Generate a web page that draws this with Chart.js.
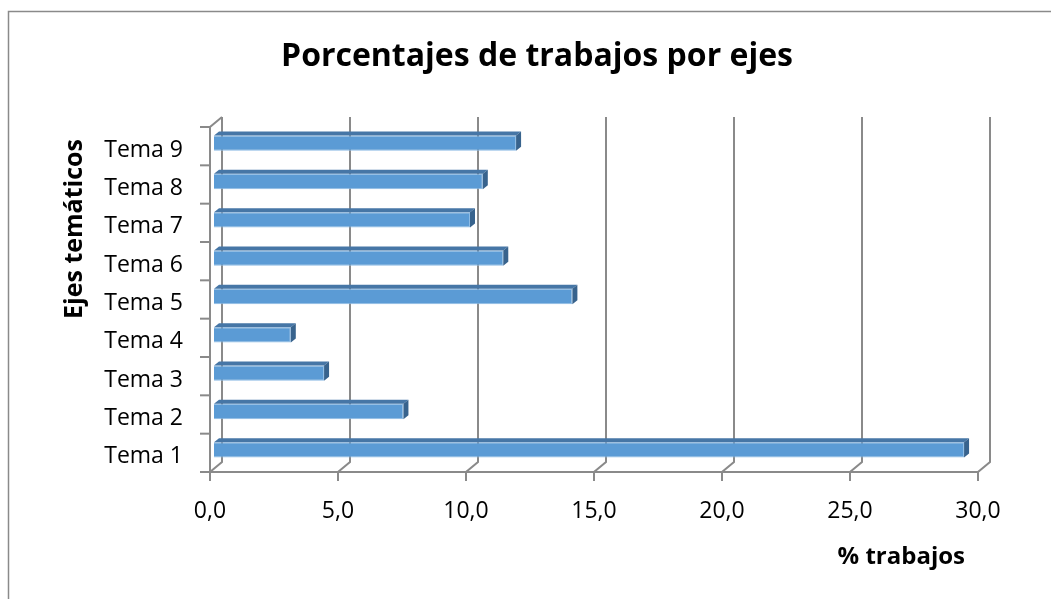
<!DOCTYPE html>
<html>
<head>
<meta charset="utf-8">
<script src="https://cdn.jsdelivr.net/npm/chart.js@4/dist/chart.umd.min.js"></script>
<style>
  html, body { margin: 0; padding: 0; background: #fff; }
  canvas { display: block; }
</style>
</head>
<body>
<canvas id="chart" width="1051" height="599"></canvas>
<script>
  "use strict";

  // Data
  const temas = ["Tema 1", "Tema 2", "Tema 3", "Tema 4", "Tema 5", "Tema 6", "Tema 7", "Tema 8", "Tema 9"];
  const porcentajes = [29.3, 7.4, 4.3, 3.0, 14.0, 11.3, 10.0, 10.5, 11.8];
  const xTicks = [0, 5, 10, 15, 20, 25, 30];

  const FONT = "'Open Sans', sans-serif";
  const LINE = "#8a8a8a";

  // depth of the 3D box and of the bars
  const depth = { x: 12, y: -10 };
  const barDepth = { x: 5, y: -4 };
  const barShift = { x: 4, y: -3 };

  const fmt = (v) => v.toFixed(1).replace(".", ",");

  const frame3d = {
    id: "frame3d",

    beforeDraw(chart) {
      const ctx = chart.ctx;
      ctx.save();
      ctx.fillStyle = "#fff";
      ctx.fillRect(0, 0, chart.width, chart.height);
      ctx.strokeStyle = LINE;
      ctx.lineWidth = 1.5;
      ctx.strokeRect(8.5, 11.5, chart.width + 20, chart.height + 20);
      ctx.restore();
    },

    beforeDatasetsDraw(chart) {
      const { ctx, chartArea } = chart;
      const xs = chart.scales.x;
      const top = chartArea.top;
      const bottom = chartArea.bottom;

      ctx.save();
      ctx.strokeStyle = LINE;
      ctx.lineWidth = 2;
      ctx.lineCap = "butt";

      // back wall gridlines, floor diagonals, ticks under the floor
      xTicks.forEach((v) => {
        const px = xs.getPixelForValue(v);
        ctx.beginPath();
        ctx.moveTo(px + depth.x, top + depth.y);
        ctx.lineTo(px + depth.x, bottom + depth.y);
        ctx.lineTo(px, bottom);
        ctx.lineTo(px, bottom + 9);
        ctx.stroke();
      });

      // front edge of the floor
      ctx.beginPath();
      ctx.moveTo(xs.getPixelForValue(0), bottom);
      ctx.lineTo(xs.getPixelForValue(30), bottom);
      ctx.stroke();

      // left wall
      const x0 = xs.getPixelForValue(0);
      ctx.beginPath();
      ctx.moveTo(x0 + depth.x, top + depth.y);
      ctx.lineTo(x0, top);
      ctx.lineTo(x0, bottom);
      ctx.stroke();

      // category ticks on the left wall
      const step = (bottom - top) / temas.length;
      for (let i = 0; i <= temas.length; i++) {
        const y = top + i * step;
        ctx.beginPath();
        ctx.moveTo(x0 - 10, y);
        ctx.lineTo(x0, y);
        ctx.stroke();
      }
      ctx.restore();

      // bars sit a bit inside the box
      ctx.save();
      ctx.translate(barShift.x, barShift.y);
    },

    afterDatasetsDraw(chart) {
      const ctx = chart.ctx;
      const meta = chart.getDatasetMeta(0);

      meta.data.forEach((bar) => {
        const { x, y, base, height } = bar.getProps(["x", "y", "base", "height"], true);
        const t = y - height / 2;
        const b = y + height / 2;

        // top face
        ctx.fillStyle = "#4676a6";
        ctx.beginPath();
        ctx.moveTo(base, t);
        ctx.lineTo(base + barDepth.x, t + barDepth.y);
        ctx.lineTo(x + barDepth.x, t + barDepth.y);
        ctx.lineTo(x, t);
        ctx.closePath();
        ctx.fill();

        // end face
        ctx.fillStyle = "#38638d";
        ctx.beginPath();
        ctx.moveTo(x, t);
        ctx.lineTo(x + barDepth.x, t + barDepth.y);
        ctx.lineTo(x + barDepth.x, b + barDepth.y);
        ctx.lineTo(x, b);
        ctx.closePath();
        ctx.fill();
      });

      ctx.restore();
    },

    afterDraw(chart) {
      const { ctx, chartArea } = chart;
      ctx.save();
      ctx.fillStyle = "#000";
      ctx.textBaseline = "middle";

      // chart title, centred on the whole frame
      ctx.font = "bold 32px " + FONT;
      ctx.textAlign = "center";
      ctx.fillText("Porcentajes de trabajos por ejes", 537, 57);

      // x axis title
      ctx.font = "bold 24px " + FONT;
      ctx.textAlign = "right";
      ctx.fillText("% trabajos", chartArea.right - 13, 557);

      // y axis title
      ctx.font = "bold 25px " + FONT;
      ctx.translate(75, 229);
      ctx.rotate(-Math.PI / 2);
      ctx.textAlign = "center";
      ctx.fillText("Ejes temáticos", 0, 0);
      ctx.restore();
    },
  };

  new Chart(document.getElementById("chart"), {
    type: "bar",
    data: {
      labels: temas,
      datasets: [
        {
          data: porcentajes,
          backgroundColor: "#5b9bd5",
          borderColor: "#8dbbe4",
          borderWidth: 1,
          barPercentage: 0.4,
          categoryPercentage: 1,
        },
      ],
    },
    options: {
      indexAxis: "y",
      responsive: false,
      animation: false,
      devicePixelRatio: 1,
      layout: {
        padding: { top: 127, left: 0, right: 73, bottom: 0 },
      },
      plugins: {
        legend: { display: false },
        tooltip: { enabled: false },
        title: { display: false },
      },
      scales: {
        x: {
          min: 0,
          max: 30,
          afterFit(scale) {
            scale.height = 127;
          },
          afterBuildTicks(scale) {
            scale.ticks = xTicks.map((v) => ({ value: v }));
          },
          grid: { display: false, drawTicks: false },
          border: { display: false },
          ticks: {
            color: "#000",
            padding: 26,
            font: { family: FONT, size: 23 },
            callback: (v) => fmt(v),
          },
        },
        y: {
          reverse: true,
          afterFit(scale) {
            scale.width = 210;
          },
          grid: { display: false, drawTicks: false },
          border: { display: false },
          ticks: {
            color: "#000",
            padding: 27,
            labelOffset: 4,
            font: { family: FONT, size: 23 },
          },
        },
      },
    },
    plugins: [frame3d],
  });
</script>
</body>
</html>
